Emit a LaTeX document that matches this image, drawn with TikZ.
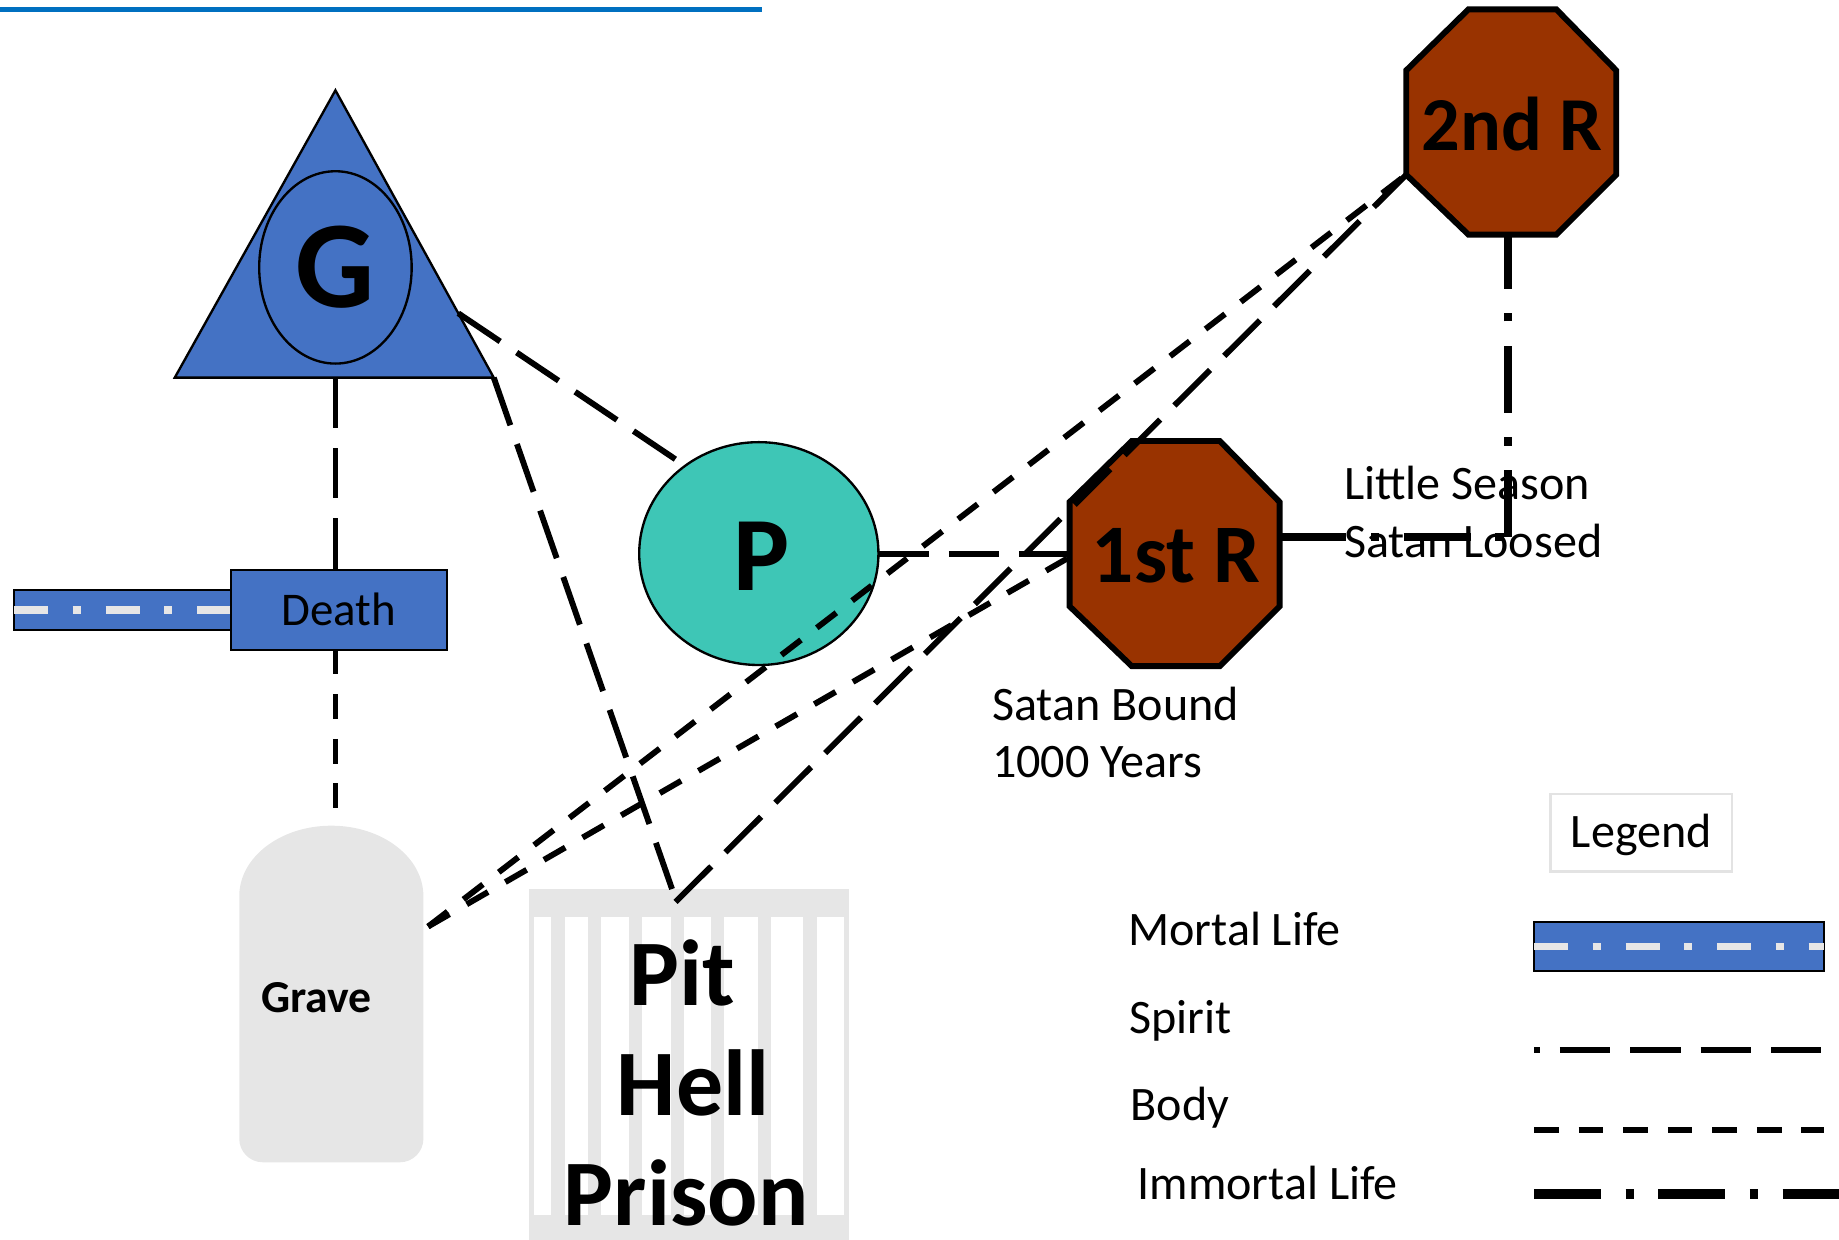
\documentclass[tikz,border=0pt]{standalone}
\usepackage{fontspec}
\setmainfont{Carlito}
\usetikzlibrary{calc,shapes.geometric}
\definecolor{topblue}{HTML}{0070C0}
\definecolor{nodeblue}{HTML}{4472C4}
\definecolor{pteal}{RGB}{62,198,182}
\definecolor{rbrown}{HTML}{993300}
\definecolor{ggrey}{HTML}{E6E6E6}
\definecolor{lifegrey}{HTML}{E7E6E6}
\definecolor{legendgrey}{HTML}{E3E3E3}
\newcommand\myfs[1]{\fontsize{#1pt}{#1pt}\selectfont}
\begin{document}
\begin{tikzpicture}[x=1pt,y=-1pt,
  spirit/.style={line width=5pt, dash pattern=on 43pt off 17pt},
  body/.style={line width=5pt, dash pattern=on 21pt off 17pt},
  immortal/.style={line width=6.5pt, dash pattern=on 57pt off 21pt on 7pt off 21pt},
  mortalline/.style={line width=6.5pt, draw=lifegrey, dash pattern=on 29pt off 21pt on 7pt off 21pt},
  bluebox/.style={draw=black, fill=nodeblue, line width=2pt, inner sep=0pt, outer sep=0pt},
  octo/.style={draw=black, fill=rbrown, line width=5pt, line join=miter},
  txt/.style={inner sep=0pt, outer sep=0pt, font=\myfs{41}},
  bigtxt/.style={inner sep=0pt, outer sep=0pt}
]
\useasboundingbox (0,0) rectangle (1568,1057);

% top rule
\draw[topblue, line width=4pt] (0,8) -- (650,8);

% triangle with G
\coordinate (tA) at (286,77);
\coordinate (tL) at (149,322);
\coordinate (tR) at (421,322);
\coordinate (tB) at (286,322);
\filldraw[fill=nodeblue, draw=black, line width=2pt, line join=miter] (tA) -- (tR) -- (tL) -- cycle;
\node[ellipse, bluebox, minimum width=130pt, minimum height=164pt, font=\myfs{106}\bfseries] (G) at (286,228) {G};

% mortal life bar and Death
\node[bluebox, minimum width=185pt, minimum height=34pt] (mortal) at (104.5,520) {};
\draw[mortalline] (mortal.west) -- (mortal.east);
\node[bluebox, minimum width=184pt, minimum height=68pt, font=\myfs{40}] (death) at (289,520) {Death};

% grave
\fill[ggrey] (204,764) .. controls (204,731) and (239,704) .. (282.5,704)
  .. controls (326,704) and (361,731) .. (361,764) -- (361,971)
  .. controls (361,982) and (352,991) .. (341,991) -- (224,991)
  .. controls (213,991) and (204,982) .. (204,971) -- cycle;
\coordinate (graveTop) at (282.5,704);
\coordinate (graveR) at (365,790);
\node[bigtxt, anchor=base, font=\myfs{39}\bfseries] (grave) at (270,863) {Grave};

% pit
\fill[ggrey] (451,758) rectangle (724,1057);
\fill[white] (455,782) rectangle (720,1036);
\foreach \a/\b in {470/482, 501/512.5, 536/547, 572/583, 606/617, 646/657, 685/696.5}
  \fill[ggrey] (\a,782) rectangle (\b,1036);
\coordinate (pitB) at (573,758);
\coordinate (pitF) at (576,769);

% P
\node[ellipse, draw=black, fill=pteal, line width=2pt, inner sep=0pt, outer sep=0pt,
  minimum width=204pt, minimum height=190pt] (P) at (647,472) {};

% octagons
\filldraw[octo] (965,376) -- (1040,376) -- (1091,428) -- (1091,517) -- (1040,568) -- (965,568) -- (912,517) -- (912,428) -- cycle;
\filldraw[octo] (1252,8) -- (1327,8) -- (1378,60) -- (1378,149) -- (1327,200) -- (1252,200) -- (1199,149) -- (1199,60) -- cycle;
\coordinate (r1W) at (912,472);
\coordinate (r1Wlow) at (912,475);
\coordinate (r1E) at (1091,458);
\coordinate (r2SW) at (1199,149);
\coordinate (r2S) at (1286,200);
\coordinate (corner) at (1286,458);

% connectors
\draw[spirit] ($(tA)!0.776!(tR)$) -- (P.130);
\draw[spirit] (tR) -- (pitB);
\draw[spirit] (tB) -- (tB |- death.north);
\draw[body] (tB |- death.south) -- (tB |- graveTop);
\draw[spirit] (P.east) -- (r1W);
\draw[body] (graveR) -- (r2SW);
\draw[body] (graveR) -- (r1Wlow);
\draw[spirit] (pitF) -- (r2SW);
\draw[immortal] (r1E) -- (corner);
\draw[immortal] (corner) -- (r2S);

% big labels
\node[bigtxt, font=\myfs{90}\bfseries] (Ptext) at (649,474) {P};
\node[bigtxt, font=\myfs{71}\bfseries] (r1) at (1003,474) {1st R};
\node[bigtxt, font=\myfs{65}\bfseries] (r2) at (1289,106) {2nd R};
\node[bigtxt, anchor=base, font=\myfs{80}\bfseries] (pit1) at (582,857) {Pit};
\node[bigtxt, anchor=base, font=\myfs{80}\bfseries] (pit2) at (591,951) {Hell};
\node[bigtxt, anchor=base, font=\myfs{80}\bfseries] (pit3) at (585,1045) {Prison};

% annotations
\node[txt, anchor=base west] (ls1) at (1146,426) {Little Season};
\node[txt, anchor=base west] (ls2) at (1146,475) {Satan Loosed};
\node[txt, anchor=base west] (sb1) at (846,614) {Satan Bound};
\node[txt, anchor=base west] (sb2) at (846,663) {1000 Years};

% legend
\node[draw=legendgrey, line width=2pt, minimum width=155pt, minimum height=66pt, inner sep=0pt,
  font=\myfs{41}, text height=26pt, text depth=0pt] (legend) at (1399.5,710) {Legend};
\node[txt, anchor=base west] (lgt1) at (962,806) {Mortal Life};
\node[txt, anchor=base west] (lgt2) at (963,881) {Spirit};
\node[txt, anchor=base west] (lgt3) at (964,955) {Body};
\node[txt, anchor=base west] (lgt4) at (970,1023) {Immortal Life};

\node[bluebox, minimum width=247pt, minimum height=42pt] (lgMortal) at (1431.5,807) {};
\draw[mortalline] (lgMortal.west) -- (lgMortal.east);
\coordinate (lgS1) at (1308,895);
\coordinate (lgS2) at (1555,895);
\draw[spirit, dash phase=38pt] (lgS1) -- (lgS2);
\coordinate (lgB1) at (1308,963.5);
\coordinate (lgB2) at (1555,963.5);
\draw[body] (lgB1) -- (lgB2);
\coordinate (lgI1) at (1308,1018);
\coordinate (lgI2) at (1568,1018);
\draw[immortal, line width=8pt] (lgI1) -- (lgI2);
\end{tikzpicture}
\end{document}
